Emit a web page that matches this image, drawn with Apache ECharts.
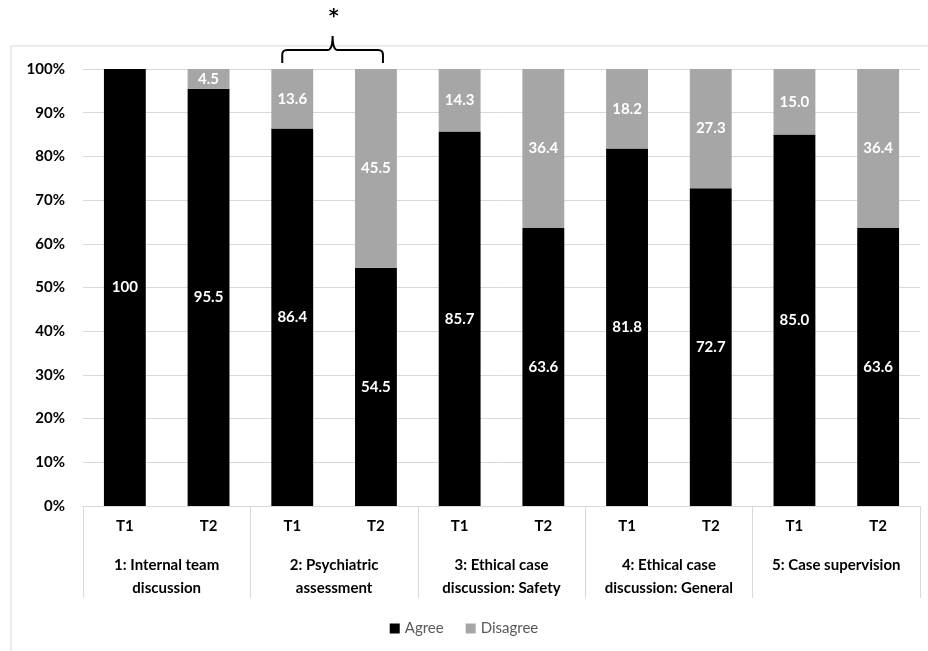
<!DOCTYPE html>
<html>
<head>
<meta charset="utf-8">
<script src="https://cdn.jsdelivr.net/npm/echarts@6/dist/echarts.min.js"></script>
<style>
  html, body { margin: 0; padding: 0; background: #ffffff; }
  #chart { width: 928px; height: 651px; }
</style>
</head>
<body>
<div id="chart"></div>
<script>
// Time points within each item
const timePoints = ['T1', 'T2', 'T1', 'T2', 'T1', 'T2', 'T1', 'T2', 'T1', 'T2'];
// Item groups (each spans two time points)
const groups = [
  '1: Internal team\ndiscussion',
  '2: Psychiatric\nassessment',
  '3: Ethical case\ndiscussion: Safety',
  '4: Ethical case\ndiscussion: General',
  '5: Case supervision'
];
// Percentages per bar
const agree    = [100, 95.5, 86.4, 54.5, 85.7, 63.6, 81.8, 72.7, 85.0, 63.6];
const disagree = [0, 4.5, 13.6, 45.5, 14.3, 36.4, 18.2, 27.3, 15.0, 36.4];
const yTicks = [0, 10, 20, 30, 40, 50, 60, 70, 80, 90, 100];

const FONT = 'Lato, "Open Sans", sans-serif';

const chart = echarts.init(document.getElementById('chart'));

function valueLabel(v) {
  if (!v) return '';
  return v === 100 ? '100' : v.toFixed(1);
}

chart.setOption({
  backgroundColor: '#ffffff',
  animation: false,
  grid: { left: 83, right: 8, top: 69, bottom: 145 },
  legend: {
    bottom: 10,
    left: 'center',
    itemWidth: 10,
    itemHeight: 10,
    itemGap: 22,
    icon: 'rect',
    textStyle: { color: '#595959', fontSize: 15, fontFamily: FONT },
    data: ['Agree', 'Disagree']
  },
  xAxis: [
    {
      type: 'category',
      data: timePoints,
      axisLine: { show: true, lineStyle: { color: '#d9d9d9', width: 1 } },
      axisTick: { show: false },
      axisLabel: {
        interval: 0, margin: 13,
        color: '#000', fontWeight: 'bold', fontSize: 15, fontFamily: FONT
      }
    },
    {
      type: 'category',
      data: groups,
      position: 'bottom',
      axisLine: { show: false },
      axisTick: {
        show: true, interval: 0, length: 92, alignWithLabel: false,
        lineStyle: { color: '#d9d9d9', width: 1 }
      },
      axisLabel: {
        interval: 0, margin: 48, lineHeight: 23,
        color: '#000', fontWeight: 'bold', fontSize: 15, fontFamily: FONT
      }
    }
  ],
  yAxis: {
    type: 'value',
    min: yTicks[0],
    max: yTicks[yTicks.length - 1],
    interval: 10,
    axisLine: { show: false },
    axisTick: { show: false },
    splitLine: { lineStyle: { color: '#d9d9d9', width: 1 } },
    axisLabel: {
      margin: 18,
      formatter: '{value}%',
      color: '#000', fontWeight: 'bold', fontSize: 15, fontFamily: FONT
    }
  },
  series: [
    {
      name: 'Agree',
      type: 'bar',
      stack: 'total',
      barWidth: '50%',
      data: agree,
      itemStyle: { color: '#000000' },
      label: {
        show: true, position: 'inside',
        formatter: p => valueLabel(p.value),
        color: '#ffffff', fontWeight: 'bold', fontSize: 15, fontFamily: FONT
      }
    },
    {
      name: 'Disagree',
      type: 'bar',
      stack: 'total',
      barWidth: '50%',
      data: disagree,
      itemStyle: { color: '#a6a6a6' },
      label: {
        show: true, position: 'inside',
        formatter: p => valueLabel(p.value),
        color: '#ffffff', fontWeight: 'bold', fontSize: 15, fontFamily: FONT
      }
    }
  ]
});

// Points along a quadratic curve from p0 to p2 with control p1
function quad(p0, p1, p2, steps) {
  const pts = [];
  for (let i = 1; i <= steps; i++) {
    const t = i / steps, u = 1 - t;
    pts.push([
      u * u * p0[0] + 2 * u * t * p1[0] + t * t * p2[0],
      u * u * p0[1] + 2 * u * t * p1[1] + t * t * p2[1]
    ]);
  }
  return pts;
}

// Outer frame, significance bracket and asterisk over item 2
function drawAnnotations() {
  const left = chart.convertToPixel({ xAxisIndex: 0 }, 2);
  const right = chart.convertToPixel({ xAxisIndex: 0 }, 3);
  const top = chart.convertToPixel({ yAxisIndex: 0 }, 100);
  const x1 = left - 10, x2 = right + 7, mid = (x1 + x2) / 2;
  const yEnd = top - 6, yBar = top - 19, yPeak = top - 33;
  const r = 5;

  let pts = [[x1, yEnd], [x1, yBar + r]];
  pts = pts.concat(quad([x1, yBar + r], [x1, yBar], [x1 + r, yBar], 6));
  pts.push([mid - r, yBar]);
  pts = pts.concat(quad([mid - r, yBar], [mid, yBar], [mid, yPeak], 6));
  pts = pts.concat(quad([mid, yPeak], [mid, yBar], [mid + r, yBar], 6));
  pts.push([x2 - r, yBar]);
  pts = pts.concat(quad([x2 - r, yBar], [x2, yBar], [x2, yBar + r], 6));
  pts.push([x2, yEnd]);

  chart.setOption({
    graphic: [
      {
        type: 'rect', silent: true, z: -1,
        shape: { x: 11, y: 46, width: 940, height: 640 },
        style: { fill: 'none', stroke: '#d9d9d9', lineWidth: 1 }
      },
      {
        type: 'polyline', silent: true,
        shape: { points: pts },
        style: { fill: 'none', stroke: '#000000', lineWidth: 2 }
      },
      {
        type: 'text', silent: true,
        x: mid + 1, y: top - 52,
        style: {
          text: '*', align: 'center', verticalAlign: 'middle',
          fill: '#000', font: 'bold 19px "DejaVu Sans", sans-serif'
        }
      }
    ]
  });
}
drawAnnotations();
</script>
</body>
</html>
